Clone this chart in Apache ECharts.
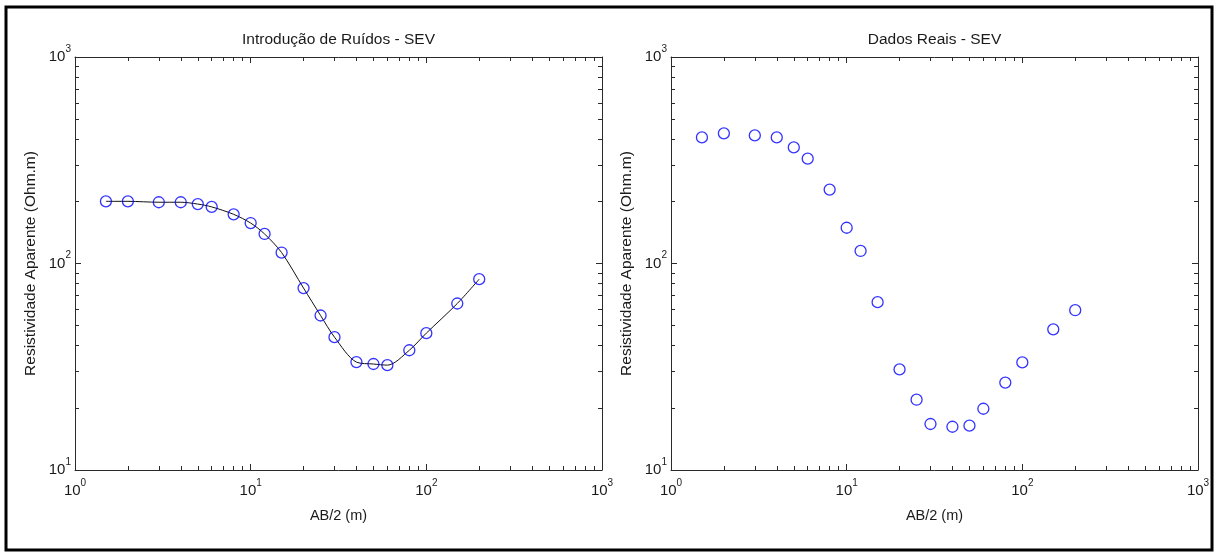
<!DOCTYPE html>
<html><head><meta charset="utf-8">
<script src="https://cdn.jsdelivr.net/npm/echarts@6/dist/echarts.min.js"></script>
<style>html,body{margin:0;padding:0;background:#fff}#c{width:1218px;height:557px}</style>
</head><body><div id="c"></div>
<script>
// ---- data ----
const abHalf = [1.5, 2, 3, 4, 5, 6, 8, 10, 12, 15, 20, 25, 30, 40, 50, 60, 80, 100, 150, 200];
const rhoNoise = [200, 200, 198, 198, 194, 188, 173, 157, 139, 113, 76, 56, 44, 33.3, 32.6, 32.2, 38, 46, 64, 84];
const rhoReal = [408, 427, 417, 408, 365, 322, 228, 149, 115, 65, 30.7, 21.9, 16.7, 16.2, 16.4, 19.8, 26.5, 33.2, 48, 59.4];
const titles = ['Introdução de Ruídos - SEV', 'Dados Reais - SEV'];
const xName = 'AB/2 (m)';
const yName = 'Resistividade Aparente (Ohm.m)';
const xMajor = [1, 10, 100, 1000];
const xMinor = [2, 3, 4, 5, 6, 7, 8, 9, 20, 30, 40, 50, 60, 70, 80, 90, 200, 300, 400, 500, 600, 700, 800, 900];
const yMajor = [10, 100, 1000];
const yMinor = [20, 30, 40, 50, 60, 70, 80, 90, 200, 300, 400, 500, 600, 700, 800, 900];

const FONT = 'Liberation Sans, Arial, sans-serif';
const INK = '#1a1a1a';
const lineStyle = { color: '#2a2a2a', width: 1 };
const grids = [
  { left: 75, top: 57, width: 527, height: 413 },
  { left: 671, top: 57, width: 527, height: 413 }
];
const rich = {
  b: { fontSize: 15, lineHeight: 28, fontFamily: FONT, color: INK },
  s: { fontSize: 10, lineHeight: 10, padding: [0, 0, 16, 0], fontFamily: FONT, color: INK }
};
const powFmt = v => '{b|10}{s|' + Math.round(Math.log10(v)) + '}';

function axisSet(kind, g, min, max, major, minor) {
  const pos = kind === 'x' ? ['bottom', 'top'] : ['left', 'right'];
  const out = [];
  pos.forEach((p, pi) => {
    out.push({
      type: 'log', logBase: 10, min, max, gridIndex: g, position: p,
      axisLine: { show: true, lineStyle },
      axisTick: { show: true, inside: true, length: 6, lineStyle, customValues: major },
      axisLabel: pi === 0 ? { show: true, customValues: major, formatter: powFmt, rich, margin: kind === 'x' ? 7 : 4 } : { show: false },
      splitLine: { show: false },
      name: pi === 0 ? (kind === 'x' ? xName : yName) : '',
      nameLocation: 'middle',
      nameGap: kind === 'x' ? 31 : 36,
      nameTextStyle: { fontFamily: FONT, fontSize: kind === 'x' ? 14.5 : 15.5, color: INK }
    });
    out.push({
      type: 'log', logBase: 10, min, max, gridIndex: g, position: p,
      axisLine: { show: false },
      axisTick: { show: true, inside: true, length: 4, lineStyle, customValues: minor },
      axisLabel: { show: false },
      splitLine: { show: false }
    });
  });
  return out;
}

const xAxis = [], yAxis = [];
[0, 1].forEach(g => {
  xAxis.push(...axisSet('x', g, 1, 1000, xMajor, xMinor));
  yAxis.push(...axisSet('y', g, 10, 1000, yMajor, yMinor));
});

const pts = ys => abHalf.map((x, i) => [x, ys[i]]);
const marker = {
  type: 'scatter', symbol: 'circle', symbolSize: 11, z: 5,
  itemStyle: { color: 'rgba(0,0,0,0)', borderColor: '#0000ff', borderWidth: 1.3 }
};

const chart = echarts.init(document.getElementById('c'), null, { renderer: 'canvas' });
chart.setOption({
  animation: false,
  backgroundColor: '#fff',
  grid: grids,
  xAxis, yAxis,
  series: [
    { type: 'line', xAxisIndex: 0, yAxisIndex: 0, data: pts(rhoNoise), showSymbol: false, smooth: 0.3,
      lineStyle: { color: '#111', width: 1 }, z: 3 },
    Object.assign({}, marker, { xAxisIndex: 0, yAxisIndex: 0, data: pts(rhoNoise) }),
    Object.assign({}, marker, { xAxisIndex: 4, yAxisIndex: 4, data: pts(rhoReal) })
  ],
  graphic: [
    { type: 'rect', shape: { x: 6, y: 7, width: 1206, height: 543 }, style: { fill: 'none', stroke: '#000', lineWidth: 3 }, silent: true },
    { type: 'text', x: 338.5, y: 40, style: { text: titles[0], textAlign: 'center', textVerticalAlign: 'middle', fontFamily: FONT, fontSize: 15.5, fill: INK } },
    { type: 'text', x: 934.5, y: 40, style: { text: titles[1], textAlign: 'center', textVerticalAlign: 'middle', fontFamily: FONT, fontSize: 15.5, fill: INK } }
  ]
});
</script></body></html>
